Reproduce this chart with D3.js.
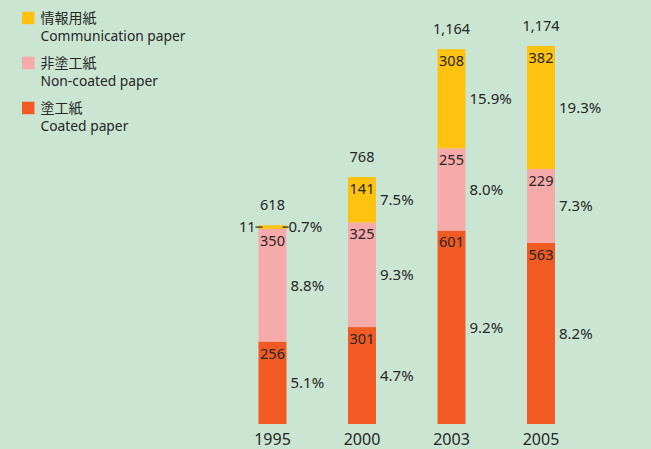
<!DOCTYPE html>
<html><head><meta charset="utf-8">
<script src="https://cdn.jsdelivr.net/npm/d3@7"></script>
<style>
html,body{margin:0;padding:0;background:#cbe5d3;}
svg{display:block;font-family:"Noto Sans","Noto Sans CJK JP",sans-serif;}
</style></head>
<body>
<svg id="chart" width="651" height="449"></svg>
<script>
const years = ["1995","2000","2003","2005"];
const coated = [256, 301, 601, 563];
const nonCoated = [350, 325, 255, 229];
const communication = [11, 141, 308, 382];
const totals = ["618","768","1,164","1,174"];
const pctCoated = ["5.1%","4.7%","9.2%","8.2%"];
const pctNonCoated = ["8.8%","9.3%","8.0%","7.3%"];
const pctCommunication = ["0.7%","7.5%","15.9%","19.3%"];
const seriesNames = [
  {key:"communication", jp:"情報用紙", en:"Communication paper", color:"#ffc20e"},
  {key:"nonCoated", jp:"非塗工紙", en:"Non-coated paper", color:"#f7aaaa"},
  {key:"coated", jp:"塗工紙", en:"Coated paper", color:"#f15a22"}
];

const svg = d3.select("#chart");
const textColor = "#262626";

const x = d3.scaleBand().domain(years).range([258.5, 258.5 + 3*89.5 + 28]).paddingInner(61.5/89.5).paddingOuter(0);
const y = d3.scaleLinear().domain([0, 1200]).range([424, 424 - 1200*0.322]);

const rows = years.map((yr,i)=>({year:yr, coated:coated[i], nonCoated:nonCoated[i], communication:communication[i],
  pct:{coated:pctCoated[i], nonCoated:pctNonCoated[i], communication:pctCommunication[i]}, total:totals[i]}));
const stack = d3.stack().keys(["coated","nonCoated","communication"]);
const stacked = stack(rows);
const colorOf = {}; seriesNames.forEach(s=>colorOf[s.key]=s.color);

const g = svg.append("g");
stacked.forEach(layer=>{
  const key = layer.key;
  const lg = g.append("g");
  lg.selectAll("rect").data(layer).join("rect")
    .attr("x", d=>x(d.data.year))
    .attr("width", x.bandwidth())
    .attr("y", d=>y(d[1]))
    .attr("height", d=>y(d[0])-y(d[1]))
    .attr("fill", colorOf[key]);
  layer.forEach((d,i)=>{
    const bx = x(d.data.year), bw = x.bandwidth();
    const top = y(d[1]), mid = (y(d[0])+y(d[1]))/2;
    const val = d.data[key];
    const pct = d.data.pct[key];
    if (key==="communication" && val < 20) {
      g.append("line").attr("x1", bx-3).attr("x2", bx+4).attr("y1", mid).attr("y2", mid)
        .attr("stroke", textColor).attr("stroke-width", 1.2);
      g.append("line").attr("x1", bx+bw-4).attr("x2", bx+bw+2).attr("y1", mid).attr("y2", mid)
        .attr("stroke", textColor).attr("stroke-width", 1.2);
      g.append("text").attr("x", bx-3).attr("y", mid+5.2).attr("text-anchor","end")
        .attr("font-size", 14.5).attr("fill", textColor).text(val);
      g.append("text").attr("x", bx+bw+2).attr("y", mid+5.4)
        .attr("font-size", 15).attr("fill", textColor).text(pct);
    } else {
      g.append("text").attr("x", bx+bw/2).attr("y", top+17).attr("text-anchor","middle")
        .attr("font-size", 14.5).attr("fill", textColor).text(val);
      g.append("text").attr("x", bx+bw+4).attr("y", mid+5.4)
        .attr("font-size", 15).attr("fill", textColor).text(pct);
    }
  });
});

// totals
const topLayer = stacked[stacked.length-1];
g.selectAll("text.total").data(topLayer).join("text").attr("class","total")
  .attr("x", d=>x(d.data.year)+x.bandwidth()/2)
  .attr("y", d=>y(d[1]) - 15)
  .attr("text-anchor","middle").attr("font-size",14.5).attr("fill",textColor)
  .text(d=>d.data.total);

// x axis labels
const xAxis = d3.axisBottom(x).tickSize(0).tickPadding(0);
const ax = svg.append("g").attr("transform","translate(0,424)").call(xAxis);
ax.select(".domain").remove();
ax.selectAll("text").attr("font-size",16).attr("fill",textColor).attr("dy","0").attr("y",21)
  .attr("font-family",'"Noto Sans",sans-serif');

// legend
const legend = svg.append("g");
seriesNames.forEach((s,i)=>{
  const ly = 11.7 + i*45;
  legend.append("rect").attr("x",22).attr("y",ly).attr("width",12.5).attr("height",12.5).attr("fill",s.color);
  legend.append("text").attr("x",40.5).attr("y",ly+11).attr("font-size",14).attr("fill",textColor)
    .attr("font-family",'"Liberation Sans","Noto Sans CJK JP",sans-serif').text(s.jp);
  legend.append("text").attr("x",40.5).attr("y",ly+29).attr("font-size",13.8).attr("fill",textColor)
    .attr("font-family",'"Noto Sans",sans-serif').text(s.en);
});
</script>
</body></html>
